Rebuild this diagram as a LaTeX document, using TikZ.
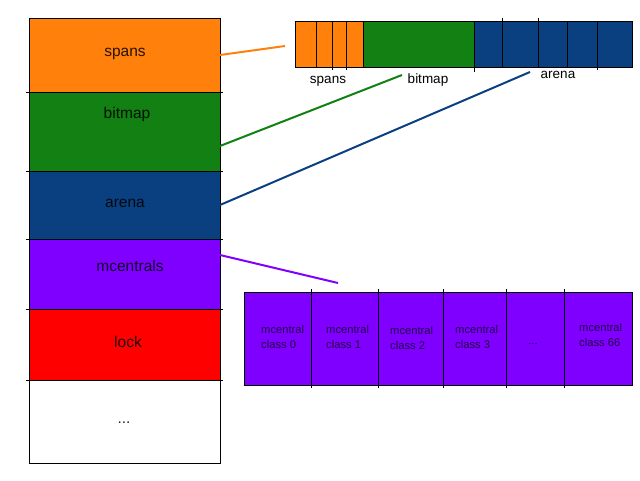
\documentclass[tikz,border=0pt]{standalone}
\usepackage{fontspec}
\setmainfont{Liberation Sans}
\definecolor{cOrange}{RGB}{255,128,10}
\definecolor{cGreen}{RGB}{18,128,18}
\definecolor{cBlue}{RGB}{10,64,128}
\definecolor{cPurple}{RGB}{128,0,255}
\definecolor{cRed}{RGB}{255,0,0}
\begin{document}
\begin{tikzpicture}[x=1pt,y=-1pt,
  box/.style={draw=black,line width=0.8pt,inner sep=0pt,outer sep=0pt,anchor=north west},
  bigtxt/.style={font=\fontsize{15.5}{18}\selectfont,text=black,text opacity=0.85,inner sep=0pt,anchor=base},
  toptxt/.style={font=\fontsize{13.5}{16}\selectfont,text=black,inner sep=0pt,anchor=base},
  smalltxt/.style={font=\fontsize{11.2}{15}\selectfont,text=black,text opacity=0.72,align=left,inner sep=0pt,anchor=base west},
  div/.style={draw=black,line width=0.8pt},
  conn/.style={line width=2pt}]
\useasboundingbox (0,0) rectangle (640,480);
% left column
\node[box,fill=cOrange,minimum width=191,minimum height=74] (spans) at (29,18) {};
\node[box,fill=cGreen,minimum width=191,minimum height=79] (bitmap) at (29,92) {};
\node[box,fill=cBlue,minimum width=191,minimum height=68] (arena) at (29,171) {};
\node[box,fill=cPurple,minimum width=191,minimum height=70] (mcentrals) at (29,239) {};
\node[box,fill=cRed,minimum width=191,minimum height=71] (lock) at (29,309) {};
\node[box,fill=white,minimum width=191,minimum height=83] (more) at (29,380) {};
\foreach \y [count=\i] in {92,171,239,309,380}
  \draw[div] (26,\y) coordinate (sl\i) -- (223,\y) coordinate (sr\i);
\node[bigtxt] (tspans) at (125,56) {spans};
\node[bigtxt] (tbitmap) at (127,118) {bitmap};
\node[bigtxt] (tarena) at (125,207) {arena};
\node[bigtxt] (tmcentrals) at (130,271) {mcentrals};
\node[bigtxt] (tlock) at (128,347) {lock};
\node[bigtxt] (tmore) at (124,423) {...};
% top bar
\node[box,fill=cOrange,minimum width=68,minimum height=46] (bspans) at (295,21) {};
\node[box,fill=cGreen,minimum width=111,minimum height=46] (bbitmap) at (363,21) {};
\node[box,fill=cBlue,minimum width=158,minimum height=46] (barena) at (474,21) {};
\foreach \x/\a/\b in {316/21/67,332/21/70,346/21/70,474/21/72,502/18/68,538/18/68,567/21/68,597/21/70}
  \draw[div] (\x,\a) -- (\x,\b);
\node[toptxt] (lspans) at (328,83) {spans};
\node[toptxt] (lbitmap) at (428,83) {bitmap};
\node[toptxt] (larena) at (558,78) {arena};
% bottom bar
\node[box,fill=cPurple,minimum width=388,minimum height=93] (central) at (244,292) {};
\foreach \x in {311,378,443,506,564}
  \draw[div] (\x,289) -- (\x,388);
\node[smalltxt] (c0) at (261,348) {mcentral\\class 0};
\node[smalltxt] (c1) at (326,348) {mcentral\\class 1};
\node[smalltxt] (c2) at (390,349) {mcentral\\class 2};
\node[smalltxt] (c3) at (455,348) {mcentral\\class 3};
\node[smalltxt,anchor=base] (cdots) at (533,344) {...};
\node[smalltxt] (c66) at (579,346) {mcentral\\class 66};
% connectors
\coordinate (eo) at (285,46);
\coordinate (eg) at (402,75);
\coordinate (eb) at (530,72);
\coordinate (ep) at (338,283);
\draw[conn,cOrange] (spans.east) -- (eo);
\draw[conn,cGreen] ([yshift=-14.5]bitmap.east) -- (eg);
\draw[conn,cBlue] (arena.east) -- (eb);
\draw[conn,cPurple] ([yshift=19]mcentrals.east) -- (ep);
\end{tikzpicture}
\end{document}
